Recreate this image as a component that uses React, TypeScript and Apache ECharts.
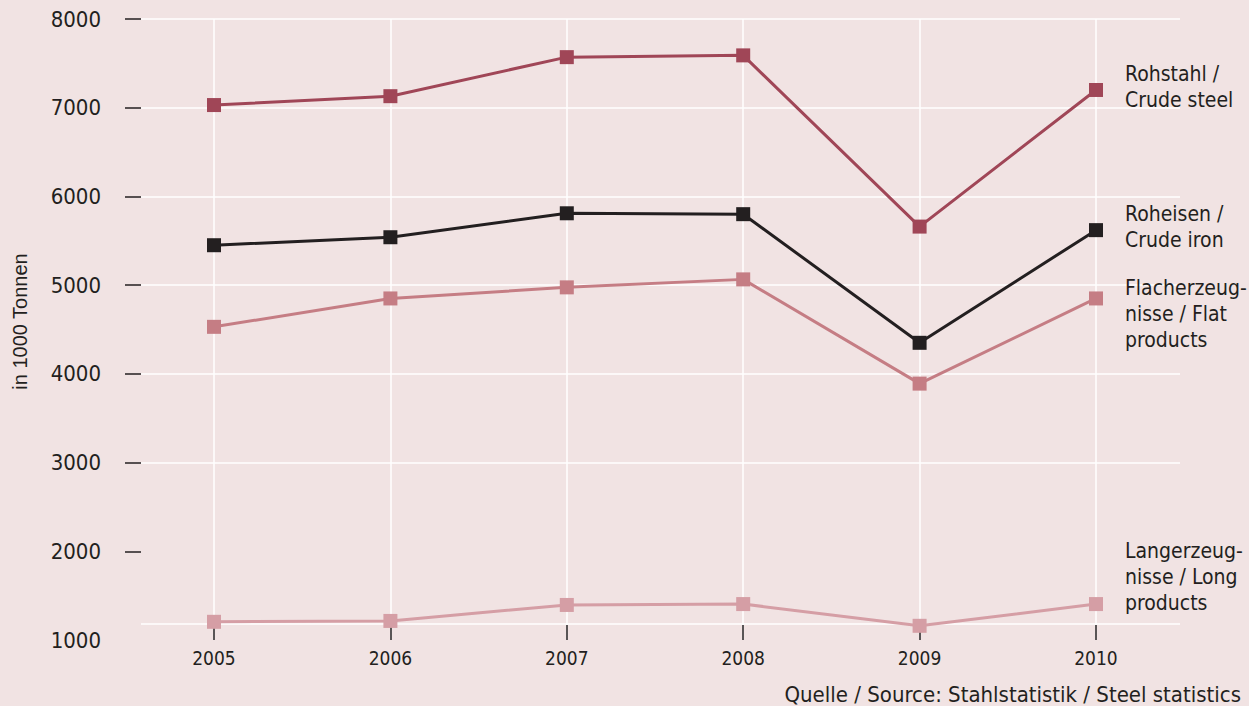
import React, { useEffect, useRef } from "react";
import * as echarts from "echarts";

const years = ["2005", "2006", "2007", "2008", "2009", "2010"];
const crudeSteel = [7030, 7130, 7570, 7590, 5660, 7200];
const crudeIron = [5450, 5540, 5810, 5800, 4350, 5620];
const flatProducts = [4530, 4850, 4975, 5065, 3890, 4850];
const longProducts = [1205, 1215, 1395, 1405, 1160, 1405];
const yTicks = [1000, 2000, 3000, 4000, 5000, 6000, 7000, 8000];
const baselineValue = 1180;

const seriesNames = [
  "Rohstahl /\nCrude steel",
  "Roheisen /\nCrude iron",
  "Flacherzeug-\nnisse / Flat\nproducts",
  "Langerzeug-\nnisse / Long\nproducts",
];

const FONT = "'DejaVu Sans Condensed', 'DejaVu Sans', sans-serif";
const BG = "#f1e3e3";

export default function App() {
  const ref = useRef<HTMLDivElement>(null);
  useEffect(() => {
    document.body.style.margin = "0";
    const chart = echarts.init(ref.current!, undefined, { renderer: "svg" });
    const mk = (
      name: string,
      data: number[],
      color: string,
      offset: [number, number]
    ) => ({
      name,
      type: "line",
      xAxisIndex: 1,
      yAxisIndex: 1,
      data,
      symbol: "rect",
      symbolSize: 14,
      lineStyle: { color, width: 3 },
      itemStyle: { color },
      z: 5,
      endLabel: {
        show: true,
        formatter: name,
        color: "#231f20",
        fontFamily: FONT,
        fontSize: 21,
        lineHeight: 26,
        align: "left",
        distance: 29,
        offset,
      },
    });
    chart.setOption({
      animation: false,
      backgroundColor: BG,
      grid: [
        { left: 141, right: 69, top: 19, bottom: 66 },
        { left: 214, right: 153, top: 19, bottom: 66 },
      ],
      xAxis: [
        {
          gridIndex: 0,
          type: "value",
          min: 0,
          max: 1,
          show: false,
        },
        {
          gridIndex: 1,
          type: "category",
          data: years,
          boundaryGap: false,
          axisLine: { show: false },
          axisTick: {
            show: true,
            inside: true,
            length: 15,
            lineStyle: { color: "#231f20", width: 1.5 },
          },
          axisLabel: {
            color: "#231f20",
            fontFamily: FONT,
            fontSize: 19,
            margin: 8,
          },
          splitLine: { show: true, lineStyle: { color: "#ffffff", width: 1.5 } },
        },
      ],
      yAxis: [
        {
          gridIndex: 0,
          type: "value",
          min: yTicks[0],
          max: yTicks[yTicks.length - 1],
          interval: 1000,
          name: "in 1000 Tonnen",
          nameLocation: "middle",
          nameGap: 111,
          nameTextStyle: {
            fontFamily: "'Liberation Sans', Arial, sans-serif",
            fontSize: 20,
            color: "#231f20",
            padding: [0, 0, 0, 16],
          },
          axisLine: { show: false },
          axisTick: {
            show: true,
            length: 16,
            customValues: yTicks.slice(1),
            lineStyle: { color: "#231f20", width: 1.5 },
          },
          axisLabel: {
            color: "#231f20",
            fontFamily: FONT,
            fontSize: 22,
            margin: 40,
            formatter: (v: number) => String(v),
          },
          splitLine: {
            show: true,
            showMinLine: false,
            lineStyle: { color: "#ffffff", width: 1.5 },
          },
        },
        {
          gridIndex: 1,
          type: "value",
          min: yTicks[0],
          max: yTicks[yTicks.length - 1],
          show: false,
        },
      ],
      series: [
        {
          type: "line",
          xAxisIndex: 0,
          yAxisIndex: 0,
          data: [
            [0, baselineValue],
            [1, baselineValue],
          ],
          symbol: "none",
          silent: true,
          lineStyle: { color: "#ffffff", width: 1.5 },
          z: 1,
        },
        mk(seriesNames[0], crudeSteel, "#a04657", [0, -3]),
        mk(seriesNames[1], crudeIron, "#231f20", [0, -3]),
        mk(seriesNames[2], flatProducts, "#c57d84", [0, 16]),
        mk(seriesNames[3], longProducts, "#d59ea5", [0, -27]),
      ],
      graphic: [
        {
          type: "text",
          right: 8,
          bottom: 1,
          style: {
            text: "Quelle / Source: Stahlstatistik / Steel statistics",
            fontFamily: FONT,
            fontSize: 22,
            fill: "#231f20",
          },
        },
      ],
    });
    return () => chart.dispose();
  }, []);
  return <div ref={ref} style={{ width: 1249, height: 706 }} />;
}
